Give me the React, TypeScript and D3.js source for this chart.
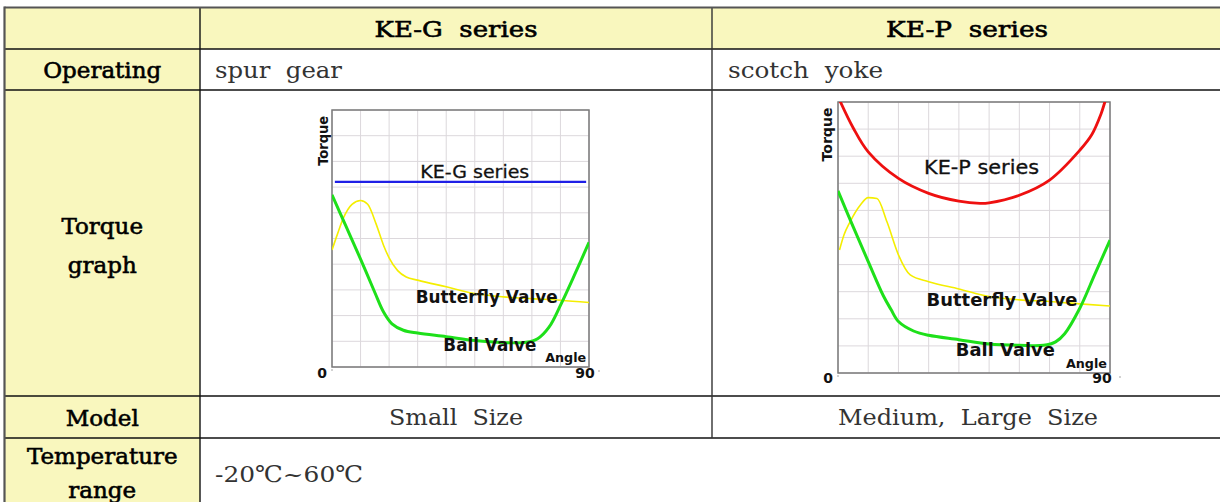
import React from "react";
import * as d3 from "d3";

// table texts
const seriesNames = ["KE-G  series", "KE-P  series"];
const operating = ["spur  gear", "scotch  yoke"];
const models = ["Small  Size", "Medium,  Large  Size"];
const temperature = "-20℃~60℃";

// torque curves: [angle (deg), relative torque 0-100]
const gBall = [
  [0, 67], [5, 54.5], [10, 42], [15, 29], [18, 21.5], [21, 16.8], [25, 14.3], [30, 13.2],
  [40, 11.8], [50, 10.3], [60, 9.5], [68, 9.6], [72, 11], [76, 15.5], [80, 24], [85, 36], [90, 48.5],
];
const gButterfly = [
  [0, 45.5], [2, 52], [4, 58], [7, 63.3], [10, 64.8], [12.5, 63.3], [15.5, 55.5], [18, 47.5],
  [20, 42.5], [23, 37.5], [26, 35], [30, 33.8], [40, 31.2], [50, 28.6], [60, 27.3], [70, 26.6],
  [80, 26], [90, 25.1],
];
const gActuator = [[1, 72], [89, 72]];

const pBall = [
  [0, 67.2], [5, 54], [10, 41.1], [15, 28.5], [17.5, 23.5], [20, 19], [25, 15.5], [30, 13.9],
  [40, 12.3], [50, 10.7], [60, 10.2], [68, 10.2], [72, 11.5], [75, 14.5], [80, 23.9], [85, 36.5], [90, 49],
];
const pButterfly = [
  [0.5, 45.4], [2, 51], [4, 55.8], [7.4, 62], [10, 64.7], [12.9, 64.4], [16.2, 55.8], [20, 43.6],
  [23.9, 36.2], [30, 33.7], [40, 31], [50, 28.2], [60, 27], [70, 26.4], [80, 25.5], [90, 24.7],
];
const pActuator = [
  [0, 102], [5, 90.5], [10, 81.6], [20, 71.8], [30, 66.3], [40, 63.4], [47, 62.6], [50, 62.8],
  [60, 65.6], [70, 71.2], [80, 82.2], [84, 88], [87, 95.5], [88.3, 100], [90, 106],
];

const angleDomain = [0, 90];
const torqueDomain = [0, 100];

const YELLOW_FILL = "#f9f7be";
const serif = "'DejaVu Serif', serif";
const sans = "'DejaVu Sans', sans-serif";

type GraphProps = {
  id: string;
  left: number; right: number; top: number; bottom: number;
  ball: number[][]; butterfly: number[][]; actuator: number[][];
  actuatorColor: string; actuatorWidth: number; actuatorName: string;
  fs: number; nameFs: number;
  nameW: number; bflyW: number; ballW: number; torqueW: number;
  torqueDx: number; zeroDy: number; ninetyDx: number;
};

function TorqueGraph(p: GraphProps) {
  const x = d3.scaleLinear().domain(angleDomain).range([p.left, p.right]);
  const y = d3.scaleLinear().domain(torqueDomain).range([p.bottom, p.top]);
  const smooth = d3
    .line<number[]>()
    .x((d) => x(d[0]))
    .y((d) => y(d[1]))
    .curve(d3.curveCatmullRom.alpha(0.5));
  const mono = d3
    .line<number[]>()
    .x((d) => x(d[0]))
    .y((d) => y(d[1]))
    .curve(d3.curveMonotoneX);
  const xt = x.ticks(9);
  const yt = y.ticks(10);
  const curved = p.actuator.length > 2;
  return (
    <g>
      <defs>
        <clipPath id={p.id}>
          <rect x={p.left} y={p.top} width={p.right - p.left} height={p.bottom - p.top} />
        </clipPath>
      </defs>
      <rect x={p.left} y={p.top} width={p.right - p.left} height={p.bottom - p.top} fill="#fff" />
      {xt.map((t) => (
        <line key={"x" + t} x1={x(t)} x2={x(t)} y1={p.top} y2={p.bottom} stroke="#dcd8dc" strokeWidth={1} />
      ))}
      {yt.map((t) => (
        <line key={"y" + t} x1={p.left} x2={p.right} y1={y(t)} y2={y(t)} stroke="#dcd8dc" strokeWidth={1} />
      ))}
      <rect x={p.left} y={p.top} width={p.right - p.left} height={p.bottom - p.top} fill="none" stroke="#7a7a7a" strokeWidth={1.5} />
      <g clipPath={`url(#${p.id})`}>
        <path d={mono(p.butterfly) || ""} fill="none" stroke="#f4ee00" strokeWidth={1.6} />
        <path d={smooth(p.ball) || ""} fill="none" stroke="#1ee01a" strokeWidth={3} />
        <path
          d={(curved ? smooth(p.actuator) : mono(p.actuator)) || ""}
          fill="none"
          stroke={p.actuatorColor}
          strokeWidth={p.actuatorWidth}
        />
      </g>
      <text
        x={x(curved ? 47.5 : 50)}
        y={y(73.5)}
        textAnchor="middle"
        fontFamily={sans}
        fontSize={p.nameFs}
        textLength={p.nameW}
        lengthAdjust="spacingAndGlyphs"
        fill="#111"
        stroke="#111"
        strokeWidth={0.3}
      >
        {p.actuatorName}
      </text>
      <text x={x(29.3)} y={y(24.8)} fontFamily={sans} fontWeight="bold" fontSize={p.fs} textLength={p.bflyW} lengthAdjust="spacingAndGlyphs" fill="#111">
        Butterfly Valve
      </text>
      <text x={x(39)} y={y(6.3)} fontFamily={sans} fontWeight="bold" fontSize={p.fs} textLength={p.ballW} lengthAdjust="spacingAndGlyphs" fill="#111">
        Ball Valve
      </text>
      <text x={x(89)} y={y(2)} textAnchor="end" fontFamily={sans} fontWeight="bold" fontSize={13} textLength={41} lengthAdjust="spacingAndGlyphs" fill="#111">
        Angle
      </text>
      <text
        transform={`translate(${p.left - p.torqueDx},${y(88)}) rotate(-90)`}
        textAnchor="middle"
        dy="0.36em"
        fontFamily={sans}
        fontWeight="bold"
        fontSize={14}
        textLength={p.torqueW}
        lengthAdjust="spacingAndGlyphs"
        fill="#111"
      >
        Torque
      </text>
      <text x={x(0) - 10} y={p.bottom + p.zeroDy} textAnchor="middle" fontFamily={sans} fontWeight="bold" fontSize={14} fill="#111">
        0
      </text>
      <text x={x(90) - p.ninetyDx} y={p.bottom + p.zeroDy} textAnchor="middle" fontFamily={sans} fontWeight="bold" fontSize={14} fill="#111">
        90
      </text>
      <circle cx={x(0)} cy={p.bottom + 3} r={0.8} fill="#999" />
      <circle cx={x(90) + 10} cy={p.bottom + 4} r={0.8} fill="#999" />
    </g>
  );
}

export default function App() {
  const colX = [4.5, 200, 712, 1222];
  const rowY = [7.5, 49, 90, 396, 438, 530];
  const mid = (i: number) => (rowY[i] + rowY[i + 1]) / 2;
  const head = { fontFamily: serif, fontSize: 23, fill: "#000", stroke: "#000", strokeWidth: 0.6 };
  const body = { fontFamily: serif, fontSize: 23, fill: "#333", style: { whiteSpace: "pre" as const } };
  return (
    <svg width={1220} height={502} style={{ position: "absolute", left: 0, top: 0 }}>
      <rect x={0} y={0} width={1220} height={502} fill="#fff" />
      <rect x={colX[0]} y={rowY[0]} width={colX[3] - colX[0]} height={rowY[1] - rowY[0]} fill={YELLOW_FILL} />
      <rect x={colX[0]} y={rowY[0]} width={colX[1] - colX[0]} height={rowY[5] - rowY[0]} fill={YELLOW_FILL} />

      {rowY.slice(1, 5).map((yy) => (
        <line key={yy} x1={colX[0]} x2={1220} y1={yy} y2={yy} stroke="#111" strokeWidth={1.4} />
      ))}
      <line x1={colX[1]} x2={colX[1]} y1={rowY[0]} y2={502} stroke="#111" strokeWidth={1.4} />
      <line x1={colX[2]} x2={colX[2]} y1={rowY[0]} y2={rowY[4]} stroke="#333" strokeWidth={1.4} />
      <line x1={colX[0]} x2={1220} y1={rowY[0]} y2={rowY[0]} stroke="#555" strokeWidth={2.2} />
      <line x1={colX[0]} x2={colX[0]} y1={rowY[0] - 1} y2={502} stroke="#555" strokeWidth={2.2} />

      {/* header row */}
      <text x={(colX[1] + colX[2]) / 2} y={mid(0) + 8.5} textAnchor="middle" {...head} style={{ whiteSpace: "pre" }} textLength={163} lengthAdjust="spacingAndGlyphs">
        {seriesNames[0]}
      </text>
      <text x={(colX[2] + colX[3]) / 2} y={mid(0) + 8.5} textAnchor="middle" {...head} style={{ whiteSpace: "pre" }} textLength={162} lengthAdjust="spacingAndGlyphs">
        {seriesNames[1]}
      </text>

      {/* operating row */}
      <text x={(colX[0] + colX[1]) / 2} y={mid(1) + 8.5} textAnchor="middle" {...head}>Operating</text>
      <text x={215} y={mid(1) + 8} {...body} textLength={127} lengthAdjust="spacingAndGlyphs">{operating[0]}</text>
      <text x={728} y={mid(1) + 8} {...body} textLength={155} lengthAdjust="spacingAndGlyphs">{operating[1]}</text>

      {/* graph row */}
      <text x={(colX[0] + colX[1]) / 2} y={234} textAnchor="middle" {...head}>Torque</text>
      <text x={(colX[0] + colX[1]) / 2} y={273} textAnchor="middle" {...head}>graph</text>
      <TorqueGraph
        id="clipG"
        left={332} right={589} top={110} bottom={367}
        ball={gBall} butterfly={gButterfly} actuator={gActuator}
        actuatorColor="#1f1fe6" actuatorWidth={2.2} actuatorName="KE-G series"
        fs={17} nameFs={18.5} nameW={109} bflyW={142} ballW={93} torqueW={50}
        torqueDx={9} zeroDy={11} ninetyDx={4}
      />
      <TorqueGraph
        id="clipP"
        left={838} right={1110} top={102} bottom={373}
        ball={pBall} butterfly={pButterfly} actuator={pActuator}
        actuatorColor="#ee1010" actuatorWidth={2.8} actuatorName="KE-P series"
        fs={18} nameFs={19} nameW={115} bflyW={151} ballW={99} torqueW={54}
        torqueDx={11} zeroDy={10} ninetyDx={8}
      />

      {/* model row */}
      <text x={(colX[0] + colX[1]) / 2} y={mid(3) + 8.5} textAnchor="middle" {...head}>Model</text>
      <text x={(colX[1] + colX[2]) / 2} y={mid(3) + 8} textAnchor="middle" {...body} textLength={134} lengthAdjust="spacingAndGlyphs">{models[0]}</text>
      <text x={968} y={mid(3) + 8} textAnchor="middle" {...body} textLength={260} lengthAdjust="spacingAndGlyphs">{models[1]}</text>

      {/* temperature row */}
      <text x={(colX[0] + colX[1]) / 2} y={464} textAnchor="middle" {...head}>Temperature</text>
      <text x={(colX[0] + colX[1]) / 2} y={498} textAnchor="middle" {...head}>range</text>
      <text x={215} y={482} {...body} textLength={148} lengthAdjust="spacingAndGlyphs">{temperature}</text>
    </svg>
  );
}
